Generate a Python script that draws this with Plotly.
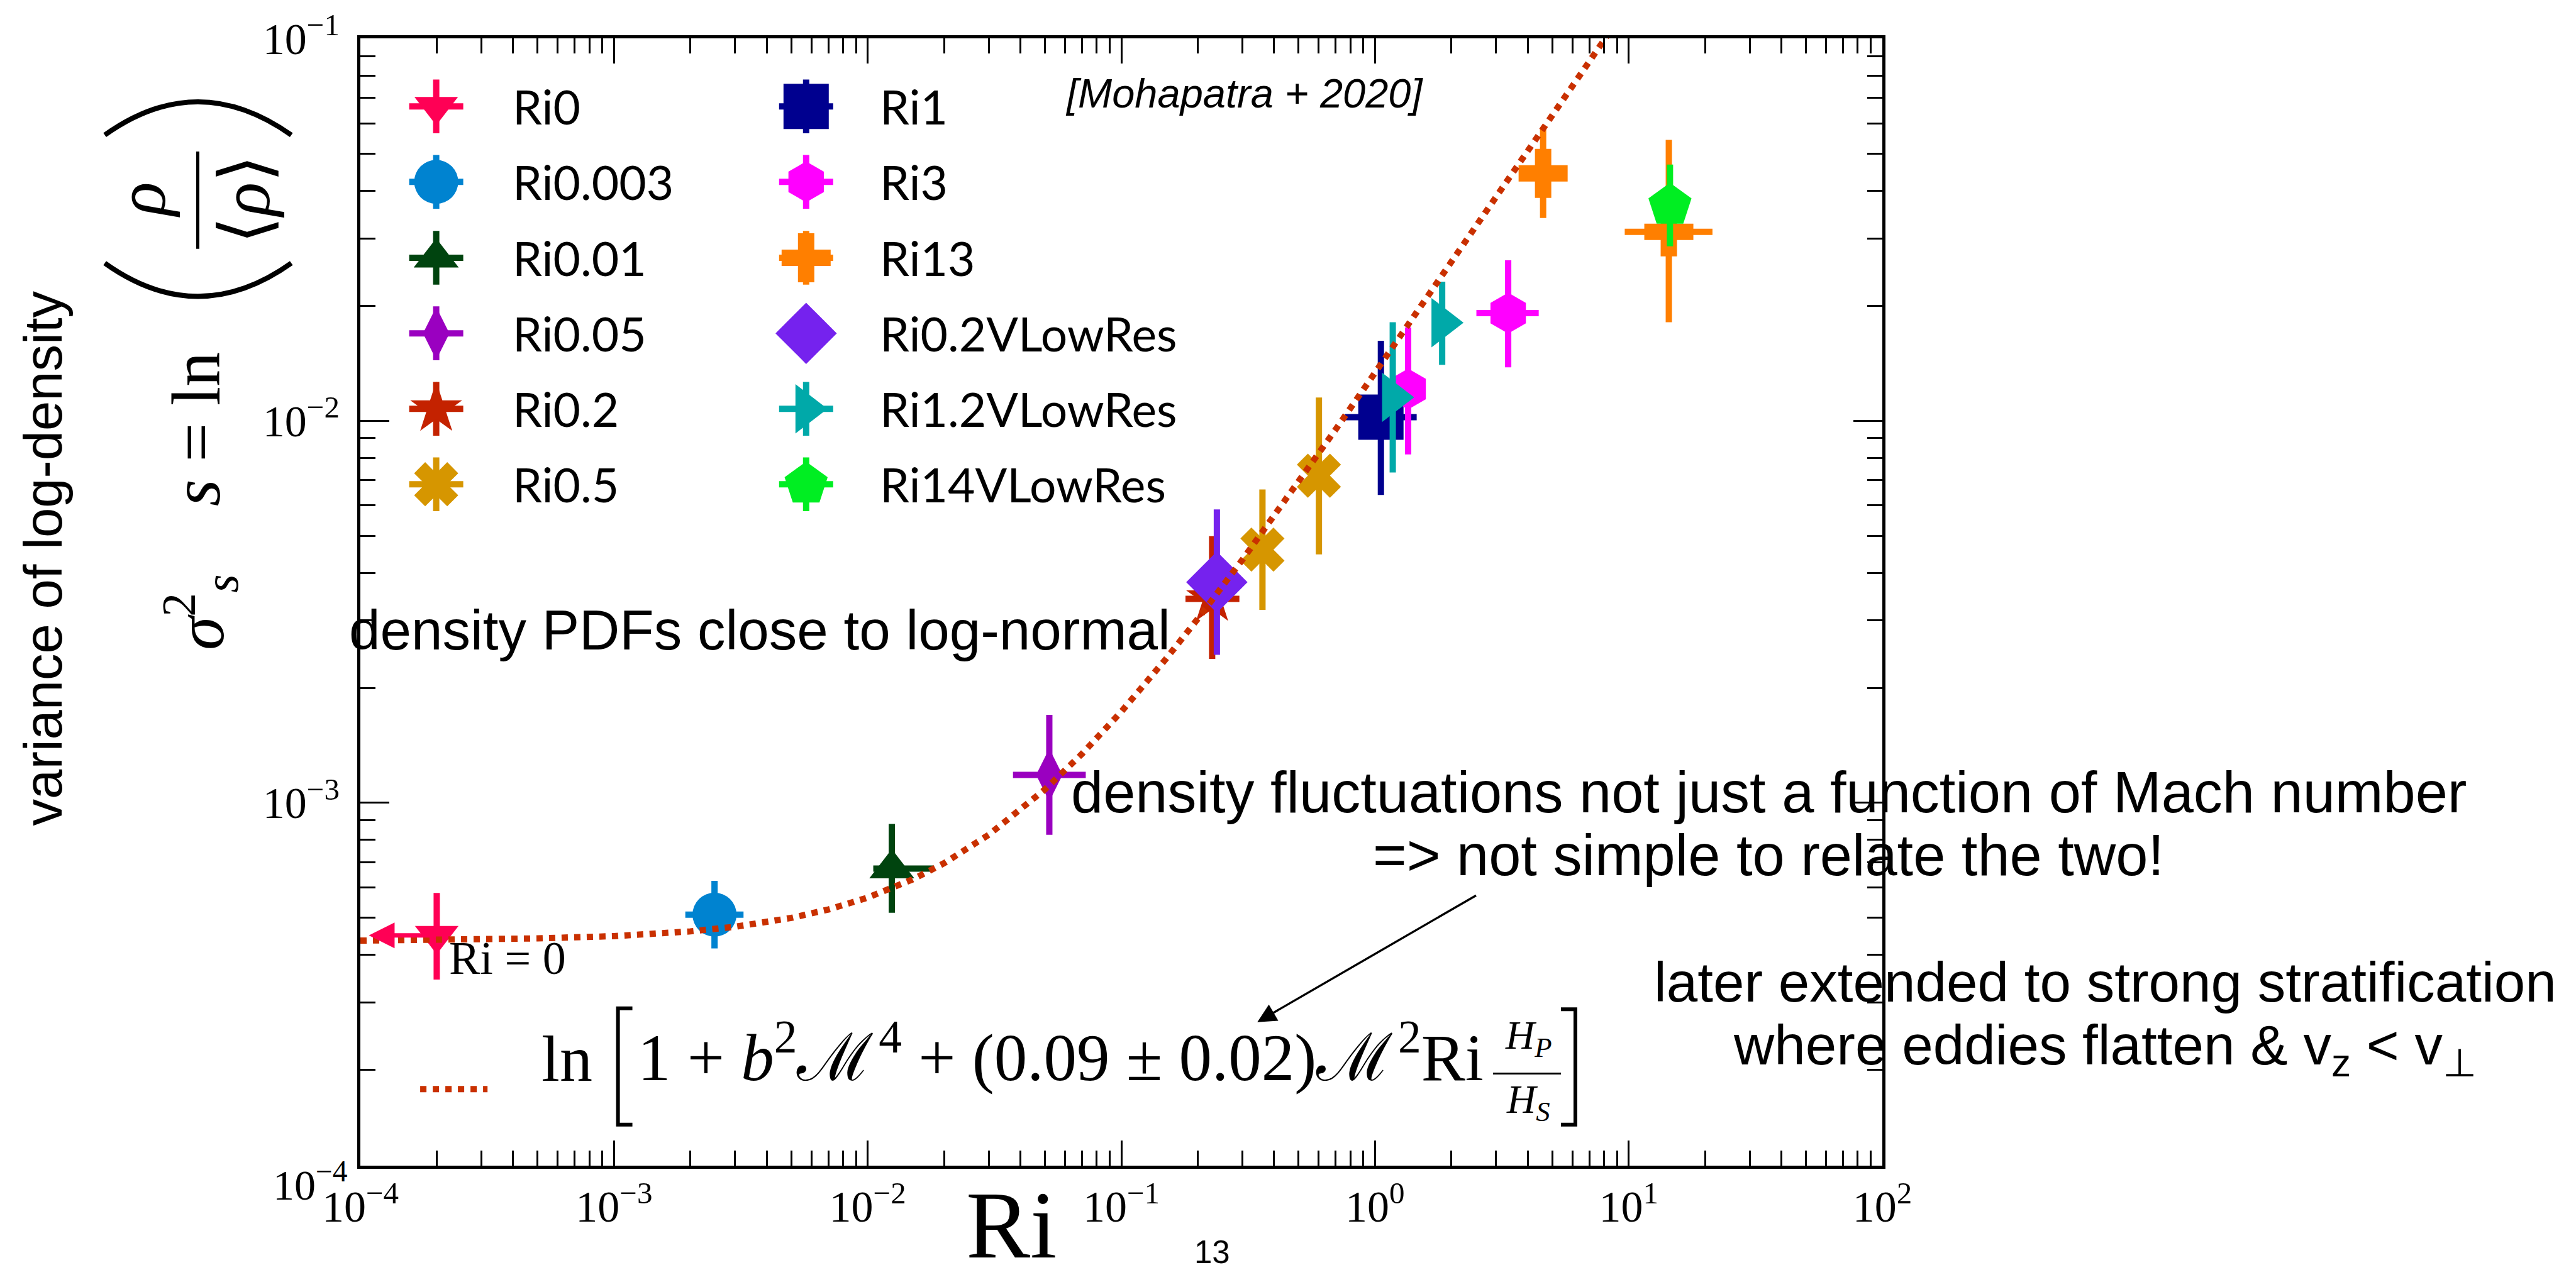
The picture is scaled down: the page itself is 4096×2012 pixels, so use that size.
import math
import plotly.graph_objects as go

# ---------------- data ----------------
names = ["Ri0", "Ri0.003", "Ri0.01", "Ri0.05", "Ri0.2", "Ri0.5",
         "Ri1", "Ri3", "Ri13", "Ri0.2VLowRes", "Ri1.2VLowRes", "Ri14VLowRes"]

ri_x = [[2.0e-4], [2.49e-3], [1.245e-2], [5.2e-2], [0.228], [0.360, 0.601],
        [1.055], [1.351, 3.35], [4.60, 14.4], [0.238], [1.175, 1.84], [14.55]]
s2_y = [[4.5e-4], [5.1e-4], [6.73e-4], [1.183e-3], [3.42e-3], [4.60e-3, 7.18e-3],
        [1.022e-2], [1.21e-2, 1.912e-2], [4.44e-2, 3.12e-2], [3.78e-3], [1.151e-2, 1.805e-2], [3.66e-2]]
s2_lo = [[3.45e-4], [4.16e-4], [5.16e-4], [8.25e-4], [2.38e-3], [3.20e-3, 4.47e-3],
         [6.39e-3], [8.16e-3, 1.379e-2], [3.39e-2, 1.81e-2], [2.44e-3], [7.32e-3, 1.40e-2], [2.86e-2]]
s2_hi = [[5.81e-4], [6.25e-4], [8.81e-4], [1.70e-3], [4.99e-3], [6.61e-3, 1.15e-2],
         [1.618e-2], [1.755e-2, 2.63e-2], [5.79e-2, 5.43e-2], [5.86e-3], [1.81e-2, 2.31e-2], [4.68e-2]]
ri_lo = [[None], [1.91e-3], [1.052e-2], [3.74e-2], [0.179], [None, None],
         [0.762], [None, 2.51], [None, 9.65], [None], [None, None], [None]]
ri_hi = [[None], [3.24e-3], [1.814e-2], [7.24e-2], [0.292], [None, None],
         [1.46], [None, 4.42], [None, 21.4], [None], [None, None], [None]]
ri0_limit_to = 1.08e-4          # Ri0 is an upper limit: arrow pointing to Ri -> 0

# dotted model curve  ln[1 + b^2 M^4 + (0.09+-0.02) M^2 Ri Hp/Hs]
curve_ri = [1e-4, 2e-4, 5e-4, 1e-3, 2e-3, 3e-3, 5e-3, 7e-3, 1e-2, 1.5e-2, 2e-2, 3e-2,
            5e-2, 7e-2, 0.1, 0.15, 0.2, 0.3, 0.5, 0.7, 1.0, 1.5, 2.0, 3.0, 4.0, 5.0, 7.0, 9.0]
curve_s2 = [4.36e-4, 4.38e-4, 4.42e-4, 4.48e-4, 4.61e-4, 4.74e-4, 5.00e-4, 5.26e-4, 5.65e-4,
            6.30e-4, 6.95e-4, 8.25e-4, 1.085e-3, 1.344e-3, 1.733e-3, 2.382e-3, 3.03e-3,
            4.326e-3, 6.91e-3, 9.49e-3, 1.335e-2, 1.974e-2, 2.61e-2, 3.87e-2, 5.11e-2,
            6.34e-2, 8.75e-2, 0.111]

x_tickvals = [1e-4, 1e-3, 1e-2, 1e-1, 1e0, 1e1, 1e2]
x_ticktext = ["10<sup>−4</sup>", "10<sup>−3</sup>", "10<sup>−2</sup>", "10<sup>−1</sup>",
              "10<sup>0</sup>", "10<sup>1</sup>", "10<sup>2</sup>"]
y_tickvals = [1e-3, 1e-2, 1e-1]
y_ticktext = ["10<sup>−3</sup>", "10<sup>−2</sup>", "10<sup>−1</sup>"]

# ---------------- styles ----------------
colors = ["#ff0055", "#0083d0", "#00440f", "#9a00c0", "#c42200", "#d69600",
          "#00008f", "#ff00ff", "#ff7f00", "#7522ee", "#00a9a9", "#00ee22"]
symbols = ["triangle-down", "circle", "triangle-up", "diamond-tall", "star", "x",
           "square", "hexagon", "cross", "diamond", "triangle-right", "pentagon"]
msize = [60, 70, 62, 60, 62, 62, 72, 65, 65, 75, 68, 72]
curve_color = "#c93000"

SANS = "Liberation Sans, Arial, Helvetica, sans-serif"
LEGF = "Lato, Liberation Sans, Arial, sans-serif"
SERIF = "Liberation Serif, Times New Roman, serif"

S = 0.85
W, H = 4096, 2012
ML, MR, MT, MB = 573, 1103, 51, 158
PW, PH = W - ML - MR, H - MT - MB


def pxo(v):  # output pixel x -> paper
    return (v - ML) / PW


def pyo(v):  # output pixel y (from top) -> paper
    return 1 - (v - MT) / PH


def ox(v):   # output pixel x -> overlay axis units (px from plot left)
    return v - ML


def oy(v):
    return v - MT


EB = 10
fig = go.Figure()

for i, n in enumerate(names):
    x, y = ri_x[i], s2_y[i]
    ey = dict(type="data", symmetric=False,
              array=[h - v for h, v in zip(s2_hi[i], y)],
              arrayminus=[v - l for l, v in zip(s2_lo[i], y)],
              thickness=EB, width=0, color=colors[i])
    tr = dict(x=x, y=y, mode="markers", name=n, showlegend=False,
              marker=dict(symbol=symbols[i], size=msize[i], color=colors[i], line=dict(width=0)),
              error_y=ey)
    if any(v is not None for v in ri_lo[i]):
        tr["error_x"] = dict(type="data", symmetric=False,
                             array=[(h - v) if h is not None else 0 for h, v in zip(ri_hi[i], x)],
                             arrayminus=[(v - l) if l is not None else 0 for l, v in zip(ri_lo[i], x)],
                             thickness=EB, width=0, color=colors[i])
    fig.add_trace(go.Scatter(**tr))

fig.add_trace(go.Scatter(x=curve_ri, y=curve_s2, mode="lines", name="model", showlegend=False,
                         line=dict(color=curve_color, width=10, dash="dot")))

# ---------------- custom legend (overlay axes in pixel units) ----------------
leg_row_y = [188 * S, 330 * S, 473 * S, 615 * S, 757 * S, 899 * S]
leg_mark_x = [816 * S, 1508 * S]
leg_text_x = [957 * S, 1643 * S]
annotations = []
for i, n in enumerate(names):
    col, row = i // 6, i % 6
    lx, ly = ox(leg_mark_x[col]), oy(leg_row_y[row])
    fig.add_trace(go.Scatter(
        x=[lx], y=[ly], xaxis="x2", yaxis="y2", mode="markers", showlegend=False, hoverinfo="skip",
        marker=dict(symbol=symbols[i], size=msize[i], color=colors[i], line=dict(width=0)),
        error_x=dict(type="constant", value=43, thickness=EB, width=0, color=colors[i]),
        error_y=dict(type="constant", value=43, thickness=EB, width=0, color=colors[i])))
    annotations.append(dict(xref="x2", yref="y2", x=ox(leg_text_x[col]), y=ly, text=n,
                            xanchor="left", yanchor="middle", showarrow=False,
                            font=dict(family=LEGF, size=75, color="black")))
fig.add_trace(go.Scatter(x=[ox(786 * S), ox(912 * S)], y=[oy(2037 * S), oy(2037 * S)],
                         xaxis="x2", yaxis="y2", mode="lines", showlegend=False, hoverinfo="skip",
                         line=dict(color=curve_color, width=10, dash="dot")))


def txt(text, x, y, size, family=SANS, xa="left", ya="top", angle=0, color="black"):
    annotations.append(dict(xref="paper", yref="paper", x=pxo(x), y=pyo(y), text=text,
                            xanchor=xa, yanchor=ya, showarrow=False, textangle=angle,
                            font=dict(family=family, size=size, color=color)))


# slide texts
txt("density PDFs close to log-normal", 553.4, 945.2, 89)
txt("density fluctuations not just a function of Mach number", 2812, 1203, 92, xa="center")
txt("=&gt; not simple to relate the two!", 2812, 1304, 92, xa="center")
txt("later extended to strong stratification", 3347.3, 1507.8, 89, xa="center")
txt("where eddies flatten &amp; v<sub>z</sub> &lt; v<sub>⊥</sub>", 3347.3, 1608.9, 89, xa="center")
txt("<i>[Mohapatra + 2020]</i>", 1692, 100, 65)
txt("Ri = 0", 712.3, 1479.4, 74, family=SERIF)
txt("Ri", 1608, 1862, 153, family=SERIF, xa="center")
txt("13", 1927.8, 1962, 51, xa="center")
txt("variance of log-density", 68, 883, 85, xa="center", ya="middle", angle=-90)
txt("<i>σ</i><sup>2</sup><sub><i>s</i></sub>", 319, 969, 108, family=SERIF, xa="center", ya="middle", angle=-90)
txt("<i>s</i> = ln", 311.6, 676, 110, family=SERIF, xa="center", ya="middle", angle=-90)
txt("<i>ρ</i>", 224, 309.4, 112, family=SERIF, xa="center", ya="middle", angle=-90)
txt("⟨<i>ρ</i>⟩", 390, 308, 112, family=SERIF, xa="center", ya="middle", angle=-90)
txt("ln", 859, 1742, 104, family=SERIF, ya="bottom")
txt("1 + <i>b</i><sup>2</sup>ℳ\u200a<sup>4</sup> + (0.09 ± 0.02)ℳ\u200a<sup>2</sup>Ri",
    1012, 1742, 105, family=SERIF, ya="bottom")
txt("<i>H</i><sub><i>P</i></sub>", 2430, 1650, 64, family=SERIF, xa="center", ya="middle")
txt("<i>H</i><sub><i>S</i></sub>", 2430, 1752, 64, family=SERIF, xa="center", ya="middle")
txt("10<sup>−4</sup>", 555, 1880, 68, family=SERIF, xa="right", ya="middle")
# clipped descenders of the slide title above the figure
txt("y", 1161, -14, 190, xa="center", ya="bottom")
txt("g", 3392, -14, 190, xa="center", ya="bottom")

# arrows
annotations.append(dict(xref="x", yref="y", axref="x", ayref="y",
                        x=math.log10(ri0_limit_to), y=math.log10(s2_y[0][0]),
                        ax=math.log10(ri_x[0][0]), ay=math.log10(s2_y[0][0]),
                        text="", showarrow=True, arrowhead=2, arrowwidth=7, arrowsize=1.17,
                        arrowcolor=colors[0], standoff=0))
annotations.append(dict(xref="paper", yref="paper", x=pxo(2352 * S), y=pyo(1911 * S),
                        ax=(2763 - 2352) * S, ay=(1673 - 1911) * S,
                        text="", showarrow=True, arrowhead=2, arrowwidth=3.4, arrowsize=1.76,
                        arrowcolor="black", standoff=0))


def P(x, y):
    return "%.5f,%.5f" % (pxo(x * S), pyo(y * S))


shapes = [
    # big parentheses of the rotated y label
    dict(type="path", xref="paper", yref="paper",
         path="M " + P(196, 483) + " Q " + P(370, 608) + " " + P(545, 483),
         line=dict(color="black", width=8)),
    dict(type="path", xref="paper", yref="paper",
         path="M " + P(196, 242) + " Q " + P(370, 117) + " " + P(545, 242),
         line=dict(color="black", width=8)),
    dict(type="line", xref="paper", yref="paper",
         x0=pxo(370 * S), x1=pxo(370 * S), y0=pyo(273 * S), y1=pyo(456 * S),
         line=dict(color="black", width=5)),
    # brackets and fraction bar of the legend formula
    dict(type="path", xref="paper", yref="paper",
         path="M " + P(1183, 1885) + " L " + P(1156, 1885) + " L " + P(1156, 2104) + " L " + P(1183, 2104),
         line=dict(color="black", width=6)),
    dict(type="path", xref="paper", yref="paper",
         path="M " + P(2920, 1887) + " L " + P(2947, 1887) + " L " + P(2947, 2104) + " L " + P(2920, 2104),
         line=dict(color="black", width=6)),
    dict(type="line", xref="paper", yref="paper",
         x0=pxo(2793 * S), x1=pxo(2920 * S), y0=pyo(2008 * S), y1=pyo(2008 * S),
         line=dict(color="black", width=3)),
]

axis_common = dict(type="log", showline=True, linewidth=5, linecolor="black", mirror="allticks",
                   ticks="inside", tickwidth=2.5, tickcolor="black", showgrid=False, zeroline=False,
                   tickmode="array",
                   tickfont=dict(family=SERIF, size=70, color="black"),
                   minor=dict(ticks="inside", ticklen=24, tickwidth=2.5, tickcolor="black",
                              tickmode="linear", dtick="D1", showgrid=False))

fig.update_layout(
    width=W, height=H,
    margin=dict(l=ML, r=MR, t=MT, b=MB, pad=0),
    paper_bgcolor="white", plot_bgcolor="white",
    showlegend=False,
    xaxis=dict(**axis_common, range=[-4, 2], ticklen=40,
               tickvals=x_tickvals, ticktext=x_ticktext),
    yaxis=dict(**axis_common, range=[-3.9493, -0.9995], ticklen=46, ticklabelstandoff=14,
               tickvals=y_tickvals, ticktext=y_ticktext),
    xaxis2=dict(overlaying="x", anchor="y2", range=[0, PW], visible=False, fixedrange=True),
    yaxis2=dict(overlaying="y", anchor="x2", range=[PH, 0], visible=False, fixedrange=True),
    annotations=annotations,
    shapes=shapes,
)

fig.write_html("out.html")
